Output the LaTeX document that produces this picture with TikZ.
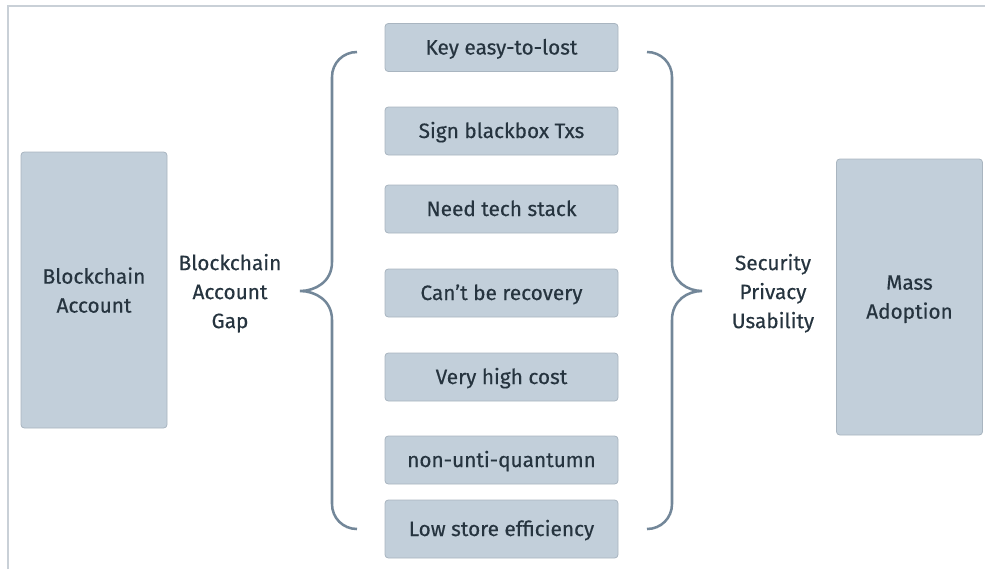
\documentclass[tikz,border=0pt]{standalone}
\usepackage{fontspec}
\setmainfont{Fira Sans}[FakeBold=0.4]
\usetikzlibrary{positioning}

\definecolor{boxfill}{HTML}{C2CFDA}
\definecolor{boxline}{HTML}{A9B5C0}
\definecolor{txtcol}{HTML}{26343F}
\definecolor{bracecol}{HTML}{738799}
\definecolor{framecol}{HTML}{C9D0D7}

\tikzset{
  bigbox/.style={draw=boxline, fill=boxfill, rounded corners=2.5pt, line width=0.6pt,
    minimum width=109.5pt, minimum height=207pt, align=center, text=txtcol,
    text depth=0pt},
  gapbox/.style={draw=boxline, fill=boxfill, rounded corners=2.5pt, line width=0.6pt,
    minimum width=174.75pt, minimum height=36pt, text=txtcol,
    text height=10.5pt, text depth=0pt},
  label/.style={align=center, text=txtcol, text depth=0pt},
  brace/.style={draw=bracecol, line width=1.9pt}
}

\begin{document}
\begin{tikzpicture}[x=0.75pt, y=-0.75pt, font=\fontsize{15.6}{21.75}\selectfont]
  \useasboundingbox (0,0) rectangle (985,569);

  % Draw frame
  \draw[framecol, line width=2.2pt] (8,569) -- (8,6) -- (985,6);

  % Draw end boxes
  \node[bigbox] (account) at (94,290) {Blockchain\\Account};
  \node[bigbox] (adoption) at (909.5,297) {Mass\\Adoption};

  \node[label] (gap) at (230,291) {Blockchain\\Account\\Gap};
  \node[label] (goals) at (773,291) {Security\\Privacy\\Usability};

  % Draw gap boxes
  \node[gapbox] (key) at (501.5,47.5) {Key easy-to-lost};
  \node[gapbox] (sign) at (501.5,131) {Sign blackbox Txs};
  \node[gapbox] (tech) at (501.5,209) {Need tech stack};
  \node[gapbox] (recover) at (501.5,293) {Can’t be recovery};
  \node[gapbox] (cost) at (501.5,377) {Very high cost};
  \node[gapbox] (quantum) at (501.5,460) {non-unti-quantumn};
  \node[gapbox, minimum height=43.5pt] (store) at (501.5,529) {Low store efficiency};

  % Draw braces
  \draw[brace] (357,52) .. controls (343,52) and (332,63) .. (332,77) -- (332,262)
    .. controls (332,282) and (315,291) .. (300,291)
    .. controls (315,291) and (332,300) .. (332,320)
    -- (332,504) .. controls (332,518) and (343,529) .. (357,529);
  \draw[brace] (647,52) .. controls (661,52) and (672,63) .. (672,77) -- (672,262)
    .. controls (672,282) and (688,291) .. (702,291)
    .. controls (688,291) and (672,300) .. (672,320)
    -- (672,504) .. controls (672,518) and (661,529) .. (647,529);
\end{tikzpicture}
\end{document}
